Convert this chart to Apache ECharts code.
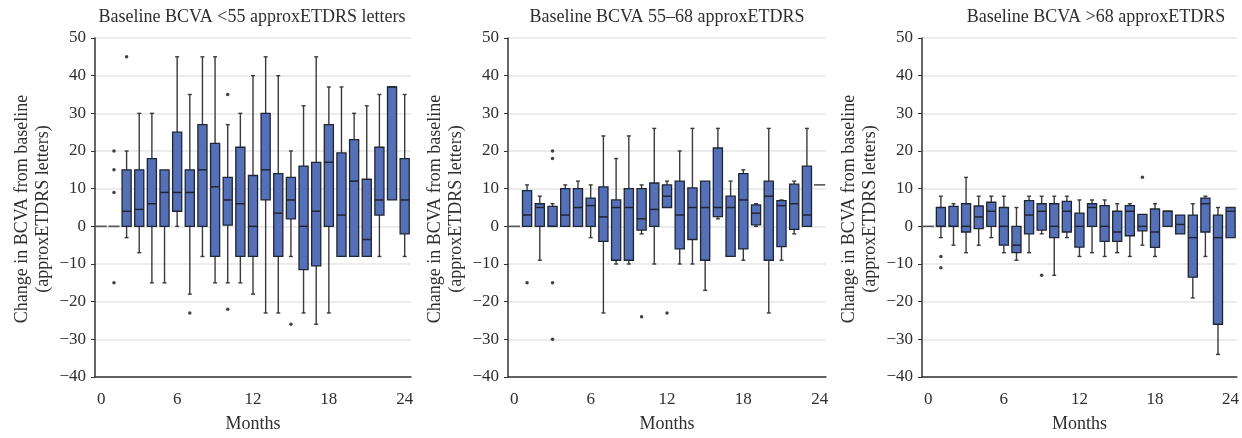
<!DOCTYPE html>
<html>
<head>
<meta charset="utf-8">
<script src="https://cdn.jsdelivr.net/npm/echarts@6/dist/echarts.min.js"></script>
<style>html,body{margin:0;padding:0;background:#fff}#c{width:1242px;height:438px}</style>
</head>
<body>
<div id="c"></div>
<script>
// Months (categories)
const months = ['0','1','2','3','4','5','6','7','8','9','10','11','12','13','14','15','16','17','18','19','20','21','22','23','24'];
const yTicks = [-40,-30,-20,-10,0,10,20,30,40,50];
const panelTitles = ['Baseline BCVA <55 approxETDRS letters','Baseline BCVA 55\u201368 approxETDRS','Baseline BCVA >68 approxETDRS'];

// Box stats per month: [low whisker, Q1, median, Q3, high whisker]
const boxLow55 = [
 [0,0,0,0,0],[0,0,0,0,0],[-3,0,4,15,20],[-7,0,4.5,15,30],[-15,0,6,18,30],
 [-15,0,9,15,15],[0,4,9,25,45],[-18,0,9,15,35],[-8,0,15,27,45],[-15,-8,10.5,22,45],
 [-15,0.3,7,13,27],[-15,-8,6,21,30],[-18,-8,0,13.5,40],[-23,7,15,30,45],[-23,-8,3.5,14,40],
 [-8,2,7,13,20],[-23,-11.5,0,16,32],[-26,-10.5,4,17,45],[-23,0,17,27,37],[-8,-8,3,19.5,37],
 [-8,-8,12,23,30],[-8,-8,-3.5,12.5,32],[-8,3,7,21,35],[7,7,37,37,37],[-8,-2,7,18,35]
];
const outLow55 = [[1,20],[1,15],[1,9],[1,-15],[2,45],[7,-23],[10,35],[10,-22],[15,-26]];

const boxMid = [
 [0,0,0,0,0],[0,0,3,9.5,11],[-9,0,5,6,8],[0,0,0,5.3,6],[0,0,3,10,11],
 [0,0,5,10,12],[-3,0,5.5,7.5,11],[-23,-4,2.5,10.5,24],[-10,-9,5,7,18],[-10,-9,5,10,24],
 [-2,-1,2,10,11],[-10,0,4.5,11.5,26],[5,5,8,11,12],[-10,-6,3,12,20],[-10,-3.5,5,10.2,26],
 [-17,-9,5,12,12],[2,2.6,5,20.8,26],[-8,-8,5,8,12],[-9,-6,7,14,15],[0,0.4,3.5,5.7,6],
 [-23,-9,8,12,26],[-9,-5.4,5.5,6.8,7],[-2,-0.8,6,11.2,12],[0,0,3,16,26],[11,11,11,11,11]
];
const outMid = [[1,-15],[3,20],[3,18],[3,-15],[3,-30],[10,-24],[12,-23]];

const boxHigh68 = [
 [0,0,0,0,0],[-3,0,0,5,8],[-5,0,0,5.3,6],[-7,-1.5,0,6,13],[-5,-0.6,2.5,5.4,8],
 [-3,0,4,6.4,8],[-7,-5,0,5,8],[-9,-7,-5,0,5],[-7,-2,3,6.8,8],[-2,-1,4,6,8],
 [-13,-3,0,6,8],[-3,-1.5,4,6.6,8],[-8,-5.5,0,3.5,7],[-7,0,5,6,7],[-8,-4,0,5.5,7],
 [-7,-4,-1.5,4,6],[-8,-2.5,4,5.5,6],[-5,-1.2,0,3.2,3.2],[-8,-5.6,-1.5,4.6,6],[0,0,4,4,4],
 [-2,-2,0.5,3,3],[-19,-13.5,-3,3,6],[-8,-1.5,6,7.5,8],[-34,-26,-3,3,5],[-3,-3,4,5,5]
];
const outHigh68 = [[1,-8],[1,-11],[9,-13],[17,13]];

const panels = [
  {box: boxLow55, out: outLow55, left: 95, width: 316, title: panelTitles[0], tx: 252, nx: 33},
  {box: boxMid, out: outMid, left: 508, width: 318, title: panelTitles[1], tx: 667, nx: 446},
  {box: boxHigh68, out: outHigh68, left: 922, width: 319, title: panelTitles[2], tx: 1096, nx: 860}
];

const FONT = '"Liberation Serif", "Times New Roman", serif';
const TXT = '#2e2e2e';

function renderBox(params, api) {
  const x = api.value(0);
  const lo = api.value(1), q1 = api.value(2), md = api.value(3), q3 = api.value(4), hi = api.value(5);
  const cw = api.size([1, 0])[0];
  const bw = cw * 0.72;
  const cx = api.coord([x, md])[0];
  const yLo = api.coord([x, lo])[1], yQ1 = api.coord([x, q1])[1], yMd = api.coord([x, md])[1];
  const yQ3 = api.coord([x, q3])[1], yHi = api.coord([x, hi])[1];
  const children = [];
  const wStyle = {stroke: '#3a3a3a', lineWidth: 1.4};
  if (q3 === q1 && hi === lo) {
    children.push({type: 'line', shape: {x1: cx - bw / 2 - 1, y1: yMd, x2: cx + bw / 2 + 1, y2: yMd}, style: {stroke: '#555', lineWidth: 1.6}});
    return {type: 'group', children};
  }
  if (hi > q3) {
    children.push({type: 'line', shape: {x1: cx, y1: yQ3, x2: cx, y2: yHi}, style: wStyle});
    children.push({type: 'line', shape: {x1: cx - 2, y1: yHi, x2: cx + 2, y2: yHi}, style: wStyle});
  }
  if (lo < q1) {
    children.push({type: 'line', shape: {x1: cx, y1: yQ1, x2: cx, y2: yLo}, style: wStyle});
    children.push({type: 'line', shape: {x1: cx - 2, y1: yLo, x2: cx + 2, y2: yLo}, style: wStyle});
  }
  children.push({type: 'rect', shape: {x: cx - bw / 2, y: yQ3, width: bw, height: yQ1 - yQ3},
    style: {fill: '#5670b8', stroke: '#1e2533', lineWidth: 1.3}});
  children.push({type: 'line', shape: {x1: cx - bw / 2, y1: yMd, x2: cx + bw / 2, y2: yMd}, style: {stroke: '#1e2533', lineWidth: 1.5}});
  return {type: 'group', children};
}

const grid = [], xAxis = [], yAxis = [], series = [], graphic = [];
panels.forEach((p, i) => {
  grid.push({left: p.left, width: p.width, top: 38, bottom: 58, containLabel: false});
  xAxis.push({
    type: 'category', gridIndex: i, data: months, boundaryGap: true,
    name: 'Months', nameLocation: 'middle', nameGap: 38,
    nameTextStyle: {fontFamily: FONT, fontSize: 18, color: TXT},
    axisLine: {onZero: false, lineStyle: {color: '#333', width: 1.5}},
    axisTick: {interval: 0, length: 4, lineStyle: {color: '#333', width: 1}},
    axisLabel: {interval: 5, margin: 14, fontFamily: FONT, fontSize: 17, color: TXT},
    splitLine: {show: false}
  });
  yAxis.push({
    type: 'value', gridIndex: i, min: yTicks[0], max: yTicks[yTicks.length - 1], interval: 10,
    axisLine: {show: true, onZero: false, lineStyle: {color: '#333', width: 1.5}},
    axisTick: {show: true, length: 4, lineStyle: {color: '#333'}},
    axisLabel: {margin: 9, fontFamily: FONT, fontSize: 17, color: TXT,
      formatter: v => (v < 0 ? '\u2212' + Math.abs(v) : String(v))},
    splitLine: {show: true, lineStyle: {color: '#e6e6e6', width: 1.5}}
  });
  series.push({
    type: 'custom', xAxisIndex: i, yAxisIndex: i, renderItem: renderBox,
    encode: {x: 0, y: [1, 2, 3, 4, 5]},
    data: p.box.map((b, k) => [k].concat(b)), z: 3
  });
  series.push({
    type: 'scatter', xAxisIndex: i, yAxisIndex: i, symbolSize: 3.5,
    itemStyle: {color: '#111'}, data: p.out, z: 4
  });
  graphic.push({type: 'text', x: p.tx, y: 17,
    style: {text: p.title, font: '18px ' + FONT, fill: TXT, align: 'center', verticalAlign: 'middle'}});
  graphic.push({type: 'text', x: p.nx, y: 209, rotation: Math.PI / 2,
    style: {text: 'Change in BCVA from baseline\n(approxETDRS letters)', font: '18px ' + FONT, lineHeight: 21,
      fill: TXT, align: 'center', verticalAlign: 'middle'}});
});

const chart = echarts.init(document.getElementById('c'), null, {renderer: 'canvas'});
chart.setOption({animation: false, backgroundColor: '#fff', grid, xAxis, yAxis, series, graphic});
</script>
</body>
</html>
